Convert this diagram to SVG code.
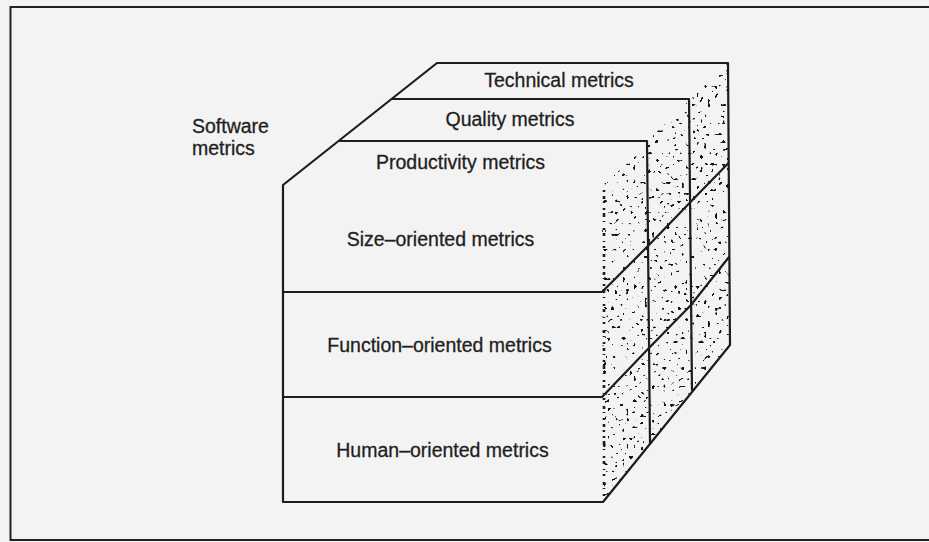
<svg xmlns="http://www.w3.org/2000/svg" width="929" height="542" viewBox="0 0 929 542">
  <defs>
    <style>
      .edge { fill: none; stroke: #1c1c1c; stroke-width: 2.2; stroke-linejoin: round; stroke-linecap: round; }
      .label { font-family: "Liberation Sans", Arial, Helvetica, sans-serif; font-size: 19.5px; fill: #1f1f1f; stroke: #1f1f1f; stroke-width: 0.3; }
      .mid { text-anchor: middle; }
    </style>
    <!-- speckled shading for the right-hand face of the cube -->
    <filter id="stipple" x="0" y="0" width="1" height="1" filterUnits="objectBoundingBox" color-interpolation-filters="sRGB">
      <feTurbulence type="fractalNoise" baseFrequency="0.27" numOctaves="1" seed="5" result="noise"/>
      <feColorMatrix in="noise" type="matrix" values="0 0 0 0 0.08  0 0 0 0 0.08  0 0 0 0 0.08  30 0 0 0 -19.9" result="dots"/>
      <feComposite in="dots" in2="SourceAlpha" operator="in"/>
    </filter>
  </defs>

  <!-- paper -->
  <rect x="0" y="0" width="929" height="542" fill="#f3f3f3"/>
  <!-- outer frame (right side runs off the page) -->
  <rect x="10.5" y="7" width="940" height="533" fill="none" stroke="#222" stroke-width="2"/>

  <!-- shaded side face -->
  <g id="side-face">
    <polygon points="602,185 728,63 729,345 603,502" fill="#000" filter="url(#stipple)"/>
    <!-- dotted front-right edge -->
    <path d="M604,190 L604,500" fill="none" stroke="#1e1e1e" stroke-width="2.6"
          stroke-dasharray="2 4 3 3 1 5 2 3 4 4 1 6 2 3 3 5 1 4 2 6 3 3 1 5"/>
  </g>

  <g id="connectors">
    <!-- outline of the cube -->
    <path class="edge" d="M283,502 L283,185 L437,63 L728,63 L730,345 L603,502 Z"/>
    <!-- depth slices: productivity / quality / technical -->
    <path class="edge" d="M340,141 L647,141 L650,443"/>
    <path class="edge" d="M393,99 L689,99 L692,390"/>
    <!-- row dividers across the front and side faces -->
    <path class="edge" d="M283,292 L602,292 L647,247 L690.5,202 L728.5,163"/>
    <path class="edge" d="M283,397 L602,397 L648,349 L691,305 L729,257"/>
  </g>

  <g id="software-metrics">
    <text class="label" x="192" y="133">Software</text>
    <text class="label" x="192" y="155">metrics</text>
  </g>
  <g id="technical-metrics">
    <text class="label mid" x="559" y="87">Technical metrics</text>
  </g>
  <g id="quality-metrics">
    <text class="label mid" x="510" y="126">Quality metrics</text>
  </g>
  <g id="productivity-metrics">
    <text class="label mid" x="460.5" y="169">Productivity metrics</text>
  </g>
  <g id="size-oriented-metrics">
    <text class="label mid" x="440.5" y="246">Size–oriented metrics</text>
  </g>
  <g id="function-oriented-metrics">
    <text class="label mid" x="439.5" y="352">Function–oriented metrics</text>
  </g>
  <g id="human-oriented-metrics">
    <text class="label mid" x="442.5" y="457">Human–oriented metrics</text>
  </g>
</svg>
